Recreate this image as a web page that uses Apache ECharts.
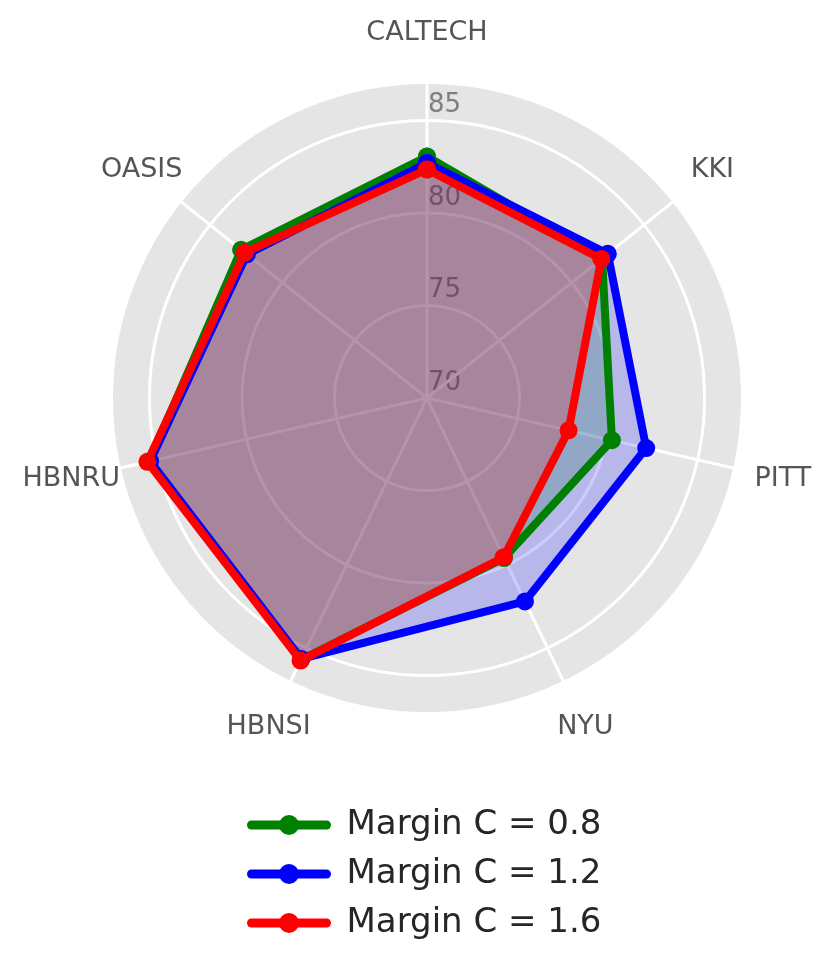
<!DOCTYPE html>
<html>
<head>
<meta charset="utf-8">
<script src="https://cdn.jsdelivr.net/npm/echarts@6/dist/echarts.min.js"></script>
<style>
  html, body { margin: 0; padding: 0; background: #fff; }
  #chart { width: 832px; height: 976px; }
</style>
</head>
<body>
<div id="chart"></div>
<script>
// 站点（顺时针，从顶部开始）
var sites = ['CALTECH', 'KKI', 'PITT', 'NYU', 'HBNSI', 'HBNRU', 'OASIS'];
var seriesNames = ['Margin C = 0.8', 'Margin C = 1.2', 'Margin C = 1.6'];
var accC08 = [83.05, 82.1, 80.25, 79.6, 85.7, 85.4, 82.85];
var accC12 = [82.7, 82.5, 82.15, 82.2, 85.65, 85.35, 82.45];
var accC16 = [82.35, 82.05, 77.85, 79.55, 85.75, 85.5, 82.6];
var radiusTicks = [70, 75, 80, 85];
var radiusMax = 87.05;

var colors = ['#008000', '#0000ff', '#ff0000'];
var font = 'DejaVu Sans';
var center = [427, 398];

var chart = echarts.init(document.getElementById('chart'));

// 闭合多边形：角度用站点序号，末尾回到第一个点（序号 n 与 0 重合）
function closed(vals) {
    var pts = vals.map(function (v, i) { return [v, i]; });
    pts.push([vals[0], sites.length]);
    return pts;
}

var allVals = [accC08, accC12, accC16];
var series = [];

// 填充（在所有折线下面）
allVals.forEach(function (vals, i) {
    series.push({
        type: 'line',
        coordinateSystem: 'polar',
        polarIndex: 0,
        clip: false,
        silent: true,
        data: closed(vals),
        showSymbol: false,
        lineStyle: { width: 0 },
        areaStyle: { color: colors[i], opacity: 0.2 },
        z: 2
    });
});

// 折线 + 圆点
allVals.forEach(function (vals, i) {
    series.push({
        name: seriesNames[i],
        type: 'line',
        coordinateSystem: 'polar',
        polarIndex: 0,
        clip: false,
        data: closed(vals),
        symbol: 'circle',
        symbolSize: 18,
        color: colors[i],
        lineStyle: { width: 8, color: colors[i], join: 'round', cap: 'round' },
        itemStyle: { color: colors[i] },
        z: 3 + i
    });
});

// 外圈站点名
series.push({
    type: 'scatter',
    coordinateSystem: 'polar',
    polarIndex: 1,
    silent: true,
    symbolSize: 1,
    itemStyle: { color: 'rgba(0,0,0,0)', opacity: 1 },
    data: sites.map(function (s, i) { return [1, i]; }),
    label: {
        show: true,
        position: 'inside',
        formatter: function (p) { return sites[p.dataIndex]; },
        fontFamily: font,
        fontSize: 27,
        color: '#555555',
        opacity: 1
    },
    z: 1
});

function hiddenAngle(idx, showSplit) {
    return {
        polarIndex: idx,
        type: 'value',
        min: 0,
        max: sites.length,
        interval: 1,
        startAngle: 90,
        clockwise: true,
        axisLine: { show: false },
        axisTick: { show: false },
        axisLabel: { show: false },
        splitLine: { show: showSplit, lineStyle: { color: '#ffffff', width: 3 } },
        z: showSplit ? 1 : 0
    };
}

var option = {
    animation: false,
    backgroundColor: '#ffffff',
    polar: [
        { center: center, radius: 315.5 },
        { center: center, radius: 365 },
        { center: center, radius: 315.5 }
    ],
    angleAxis: [hiddenAngle(0, false), hiddenAngle(1, false), hiddenAngle(2, true)],
    radiusAxis: [
        {
            // 灰色底盘 + 刻度数字
            polarIndex: 0,
            type: 'value',
            min: radiusTicks[0],
            max: radiusMax,
            interval: 5,
            axisLine: { show: false },
            axisTick: { show: false },
            axisLabel: {
                showMaxLabel: false,
                formatter: function (v) { return radiusTicks.indexOf(v) >= 0 ? String(v) : ''; },
                fontFamily: font,
                fontSize: 26,
                color: '#7f7f7f',
                margin: -1,
                verticalAlign: 'bottom',
                align: 'left',
                padding: [0, 0, 2, 0]
            },
            splitLine: { show: false },
            splitArea: { show: true, areaStyle: { color: ['#e5e5e5'] } },
            z: 0
        },
        {
            polarIndex: 1,
            type: 'value',
            min: 0,
            max: 1,
            axisLine: { show: false },
            axisTick: { show: false },
            axisLabel: { show: false },
            splitLine: { show: false }
        },
        {
            // 白色网格圆
            polarIndex: 2,
            type: 'value',
            min: radiusTicks[0],
            max: radiusMax,
            interval: 5,
            axisLine: { show: false },
            axisTick: { show: false },
            axisLabel: { show: false },
            splitLine: { show: true, lineStyle: { color: '#ffffff', width: 3 } },
            z: 1
        }
    ],
    legend: {
        data: seriesNames,
        orient: 'vertical',
        left: 247,
        top: 808,
        padding: 0,
        itemWidth: 75,
        itemHeight: 25,
        itemGap: 15,
        lineStyle: { width: 9 },
        textStyle: {
            fontFamily: font,
            fontSize: 34,
            lineHeight: 34,
            color: '#262626',
            padding: [0, 0, 0, 15]
        }
    },
    series: series
};

chart.setOption(option);
</script>
</body>
</html>
